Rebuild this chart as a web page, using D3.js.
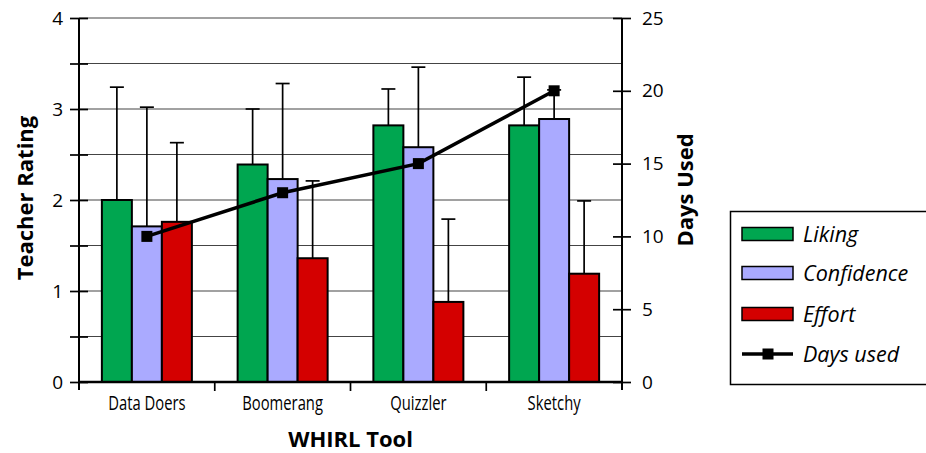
<!DOCTYPE html>
<html>
<head>
<meta charset="utf-8">
<script src="https://cdn.jsdelivr.net/npm/d3@7"></script>
<style>
  html, body { margin: 0; padding: 0; background: #fff; }
  svg { display: block; font-family: 'Open Sans', 'Noto Sans', sans-serif; }
</style>
</head>
<body>
<div id="chart"></div>
<script>
const categories = ['Data Doers', 'Boomerang', 'Quizzler', 'Sketchy']
const seriesNames = ['Liking', 'Confidence', 'Effort']

const liking = [2.0, 2.39, 2.82, 2.82]
const confidence = [1.71, 2.23, 2.58, 2.89]
const effort = [1.76, 1.36, 0.88, 1.19]

// upward error bar sizes
const likingErr = [1.24, 0.61, 0.40, 0.53]
const confidenceErr = [1.31, 1.05, 0.88, 0.32]
const effortErr = [0.87, 0.85, 0.91, 0.80]

const daysUsed = [10, 13, 15, 20]

const ratingTicks = [0, 0.5, 1, 1.5, 2, 2.5, 3, 3.5, 4]
const daysTicks = [0, 5, 10, 15, 20, 25]

const colors = {
  Liking: '#00a650',
  Confidence: '#aaaaff',
  Effort: '#d40000',
}

const size = {width: 926, height: 453}
const plot = {left: 79, right: 622, top: 18, bottom: 382}

const values = {Liking: liking, Confidence: confidence, Effort: effort}
const errors = {Liking: likingErr, Confidence: confidenceErr, Effort: effortErr}

const rows = categories.map((c, i) => ({
  category: c,
  days: daysUsed[i],
  bars: seriesNames.map(s => ({key: s, value: values[s][i], err: errors[s][i]})),
}))

const svg = d3.select('#chart').append('svg')
  .attr('width', size.width)
  .attr('height', size.height)

const xScale = d3.scaleBand().domain(categories).range([plot.left, plot.right])
const groupWidth = 90
const xSub = d3.scaleBand().domain(seriesNames)
  .range([(xScale.bandwidth() - groupWidth) / 2, (xScale.bandwidth() + groupWidth) / 2])
const yScale = d3.scaleLinear().domain([0, 4]).range([plot.bottom, plot.top])
const y2Scale = d3.scaleLinear().domain([0, 25]).range([plot.bottom, plot.top])

// gridlines
svg.append('g')
  .attr('class', 'grid')
  .selectAll('line')
  .data(ratingTicks.filter(d => d > 0))
  .join('line')
  .attr('x1', plot.left)
  .attr('x2', plot.right)
  .attr('y1', d => yScale(d))
  .attr('y2', d => yScale(d))
  .attr('stroke', '#444')
  .attr('stroke-width', 1.2)

// bars
const groups = svg.append('g')
  .attr('class', 'bars')
  .selectAll('g')
  .data(rows)
  .join('g')
  .attr('transform', d => `translate(${xScale(d.category)},0)`)

groups.selectAll('rect')
  .data(d => d.bars)
  .join('rect')
  .attr('x', d => xSub(d.key))
  .attr('y', d => yScale(d.value))
  .attr('width', xSub.bandwidth())
  .attr('height', d => yScale(0) - yScale(d.value))
  .attr('fill', d => colors[d.key])
  .attr('stroke', '#000')
  .attr('stroke-width', 2)

// error bars (upper only)
const errGroups = groups.selectAll('g.err')
  .data(d => d.bars)
  .join('g')
  .attr('class', 'err')
  .attr('stroke', '#000')
  .attr('stroke-width', 1.7)

errGroups.append('line')
  .attr('x1', d => xSub(d.key) + xSub.bandwidth() / 2)
  .attr('x2', d => xSub(d.key) + xSub.bandwidth() / 2)
  .attr('y1', d => yScale(d.value))
  .attr('y2', d => yScale(d.value + d.err))

errGroups.append('line')
  .attr('x1', d => xSub(d.key) + xSub.bandwidth() / 2 - 7)
  .attr('x2', d => xSub(d.key) + xSub.bandwidth() / 2 + 7)
  .attr('y1', d => yScale(d.value + d.err))
  .attr('y2', d => yScale(d.value + d.err))

// left axis
const yAxis = d3.axisLeft(yScale)
  .tickValues(ratingTicks)
  .tickSizeInner(9)
  .tickSizeOuter(0)
  .tickPadding(7)
  .tickFormat(d => Number.isInteger(d) ? d : '')

const gy = svg.append('g')
  .attr('class', 'axis axis-y')
  .attr('transform', `translate(${plot.left},0)`)
  .call(yAxis)
gy.select('.domain').remove()
gy.selectAll('.tick line').attr('x1', 9).attr('x2', -9).attr('stroke-width', 1.7)
gy.selectAll('.tick text').attr('font-size', 19).attr('font-family', 'Open Sans').attr('fill', '#000')

// right axis
const y2Axis = d3.axisRight(y2Scale)
  .tickValues(daysTicks)
  .tickSizeInner(9)
  .tickSizeOuter(0)
  .tickPadding(11)

const gy2 = svg.append('g')
  .attr('class', 'axis axis-y2')
  .attr('transform', `translate(${plot.right},0)`)
  .call(y2Axis)
gy2.select('.domain').remove()
gy2.selectAll('.tick line').attr('x1', -9).attr('x2', 9).attr('stroke-width', 1.7)
gy2.selectAll('.tick text').attr('font-size', 19).attr('font-family', 'Open Sans').attr('fill', '#000')

// vertical axis lines
svg.append('g')
  .attr('stroke', '#000')
  .attr('stroke-width', 2)
  .selectAll('line')
  .data([plot.left, plot.right])
  .join('line')
  .attr('x1', d => d)
  .attr('x2', d => d)
  .attr('y1', plot.top)
  .attr('y2', plot.bottom + 8)

// x axis
const xAxis = d3.axisBottom(xScale).tickSize(0).tickPadding(14)
const gx = svg.append('g')
  .attr('class', 'axis axis-x')
  .attr('transform', `translate(0,${plot.bottom})`)
  .call(xAxis)
gx.select('.domain').remove()
// narrow the labels to look like the condensed face of the original
gx.selectAll('.tick text')
  .attr('font-size', 20)
  .attr('font-family', 'Open Sans')
  .attr('transform', 'scale(0.74,1)')
  .attr('fill', '#000')

svg.append('g')
  .attr('stroke', '#000')
  .attr('stroke-width', 1.7)
  .selectAll('line')
  .data(categories.slice(1))
  .join('line')
  .attr('x1', d => xScale(d))
  .attr('x2', d => xScale(d))
  .attr('y1', plot.bottom)
  .attr('y2', plot.bottom + 9)

svg.append('line')
  .attr('x1', plot.left)
  .attr('x2', plot.right)
  .attr('y1', plot.bottom)
  .attr('y2', plot.bottom)
  .attr('stroke', '#000')
  .attr('stroke-width', 2.5)

// days used line
const lineX = d => xScale(d.category) + xSub('Confidence') + xSub.bandwidth() / 2
const daysLine = d3.line()
  .x(lineX)
  .y(d => y2Scale(d.days))

svg.append('path')
  .datum(rows)
  .attr('d', daysLine)
  .attr('fill', 'none')
  .attr('stroke', '#000')
  .attr('stroke-width', 3.5)

svg.append('g')
  .selectAll('rect')
  .data(rows)
  .join('rect')
  .attr('x', d => lineX(d) - 5.5)
  .attr('y', d => y2Scale(d.days) - 5.5)
  .attr('width', 11)
  .attr('height', 11)
  .attr('fill', '#000')

// axis titles
svg.append('text')
  .attr('transform', 'translate(33,198) rotate(-90)')
  .attr('text-anchor', 'middle')
  .attr('font-size', 22)
  .attr('font-weight', 'bold')
  .text('Teacher Rating')

svg.append('text')
  .attr('transform', 'translate(693,190) rotate(-90)')
  .attr('text-anchor', 'middle')
  .attr('font-size', 22)
  .attr('font-weight', 'bold')
  .text('Days Used')

svg.append('text')
  .attr('x', (plot.left + plot.right) / 2)
  .attr('y', 447)
  .attr('text-anchor', 'middle')
  .attr('font-size', 22)
  .attr('font-weight', 'bold')
  .text('WHIRL Tool')

// legend
const legend = svg.append('g').attr('class', 'legend')
legend.append('rect')
  .attr('x', 730.5)
  .attr('y', 211.5)
  .attr('width', 220)
  .attr('height', 173)
  .attr('fill', '#fff')
  .attr('stroke', '#000')
  .attr('stroke-width', 1.5)

const legendRows = [
  {name: 'Liking', y: 234},
  {name: 'Confidence', y: 273},
  {name: 'Effort', y: 314},
  {name: 'Days used', y: 354, line: true},
]

const items = legend.selectAll('g.item')
  .data(legendRows)
  .join('g')
  .attr('class', 'item')
  .attr('transform', d => `translate(742,${d.y})`)

items.filter(d => !d.line).append('rect')
  .attr('x', 0)
  .attr('y', -6.5)
  .attr('width', 51)
  .attr('height', 13)
  .attr('fill', d => colors[d.name])
  .attr('stroke', '#000')
  .attr('stroke-width', 1.5)

const lineItem = items.filter(d => d.line)
lineItem.append('line')
  .attr('x1', 0)
  .attr('x2', 51)
  .attr('stroke', '#000')
  .attr('stroke-width', 3.5)
lineItem.append('rect')
  .attr('x', 20.5)
  .attr('y', -5.5)
  .attr('width', 11)
  .attr('height', 11)
  .attr('fill', '#000')

items.append('text')
  .attr('x', 61)
  .attr('dy', '0.35em')
  .attr('font-size', 21.5)
  .attr('font-style', 'italic')
  .text(d => d.name)
</script>
</body>
</html>
